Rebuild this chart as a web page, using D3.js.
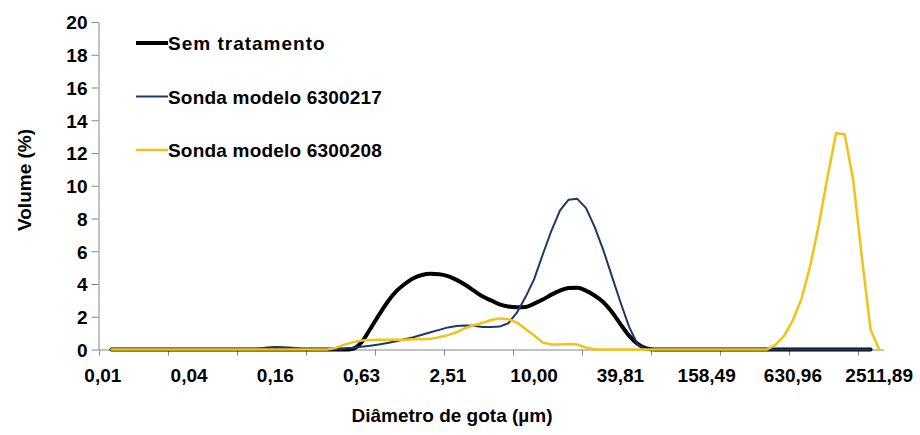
<!DOCTYPE html>
<html>
<head>
<meta charset="utf-8">
<script src="https://cdn.jsdelivr.net/npm/d3@7"></script>
<style>
  body { margin: 0; background: #fff; }
  svg text { font-family: "Liberation Sans", Arial, sans-serif; font-weight: bold; fill: #000; }
</style>
</head>
<body>
<svg id="chart" width="920" height="435"></svg>
<script>
// diameter classes (µm), one per category on the x axis
const diameters = [
  0.01, 0.011482, 0.013183, 0.015136, 0.017378, 0.019953, 0.022909, 0.026303, 0.0302, 0.034674,
  0.039811, 0.045709, 0.052481, 0.060256, 0.069183, 0.079433, 0.091201, 0.10471, 0.12023, 0.13804,
  0.15849, 0.18197, 0.20893, 0.23988, 0.27542, 0.31623, 0.36308, 0.41687, 0.47863, 0.54954,
  0.63096, 0.72444, 0.83176, 0.95499, 1.0965, 1.2589, 1.4454, 1.6596, 1.9055, 2.1878,
  2.5119, 2.884, 3.3113, 3.8019, 4.3652, 5.0119, 5.7544, 6.6069, 7.5858, 8.7096,
  10.0, 11.482, 13.183, 15.136, 17.378, 19.953, 22.909, 26.303, 30.2, 34.674,
  39.811, 45.709, 52.481, 60.256, 69.183, 79.433, 91.201, 104.71, 120.23, 138.04,
  158.49, 181.97, 208.93, 239.88, 275.42, 316.23, 363.08, 416.87, 478.63, 549.54,
  630.96, 724.44, 831.76, 954.99, 1096.5, 1258.9, 1445.4, 1659.6, 1905.5, 2187.8,
  2511.89
];

const xTickLabels = ["0,01", "0,04", "0,16", "0,63", "2,51", "10,00", "39,81", "158,49", "630,96", "2511,89"];
const yTicks = [0, 2, 4, 6, 8, 10, 12, 14, 16, 18, 20];

const seriesNames = ["Sem tratamento", "Sonda modelo 6300217", "Sonda modelo 6300208"];

// volume (%) per diameter class
const semTratamento = [
  null, 0, 0, 0, 0, 0, 0, 0, 0, 0,
  0, 0, 0, 0, 0, 0, 0, 0, 0, 0,
  0, 0, 0, 0, 0, 0, 0, 0, 0, 0.05,
  0.45, 1.25, 2.1, 2.9, 3.55, 4.0, 4.35, 4.55, 4.62, 4.6,
  4.48, 4.25, 3.95, 3.6, 3.25, 3.0, 2.75, 2.62, 2.58, 2.6,
  2.8, 3.05, 3.35, 3.6, 3.75, 3.77, 3.6, 3.3, 2.9, 2.3,
  1.55, 0.85, 0.35, 0.07, 0, 0, 0, 0, 0, 0,
  0, 0, 0, 0, 0, 0, 0, 0, 0, 0,
  0, 0, 0, 0, 0, 0, 0, 0, 0, 0,
  null
];

const sonda6300217 = [
  null, 0, 0, 0, 0, 0, 0, 0, 0, 0,
  0, 0, 0, 0, 0, 0, 0, 0, 0.05, 0.12,
  0.15, 0.14, 0.1, 0.05, 0.02, 0, 0, 0, 0.05, 0.1,
  0.17, 0.23, 0.3, 0.4, 0.5, 0.62, 0.75, 0.9, 1.05, 1.2,
  1.35, 1.43, 1.47, 1.45, 1.38, 1.37, 1.4, 1.6, 2.25, 3.2,
  4.3, 5.8, 7.25, 8.5, 9.15, 9.2, 8.65, 7.5, 6.1, 4.5,
  2.9, 1.4, 0.3, 0, 0, 0, 0, 0, 0, 0,
  0, 0, 0, 0, 0, 0, 0, 0, 0, 0,
  0, 0, 0, 0, 0, 0, 0, 0, 0, 0,
  null
];

const sonda6300208 = [
  null, 0, 0, 0, 0, 0, 0, 0, 0, 0,
  0, 0, 0, 0, 0, 0, 0, 0, 0, 0,
  0, 0, 0, 0, 0, 0, 0, 0.1, 0.3, 0.45,
  0.55, 0.58, 0.6, 0.6, 0.6, 0.6, 0.62, 0.62, 0.65, 0.75,
  0.88, 1.05, 1.3, 1.48, 1.62, 1.8, 1.9, 1.85, 1.65, 1.25,
  0.85, 0.42, 0.3, 0.3, 0.33, 0.3, 0.12, 0.02, 0, 0,
  0, 0, 0, 0, 0, 0, 0, 0, 0, 0,
  0, 0, 0, 0, 0, 0, 0, 0, 0.3, 0.85,
  1.8, 3.1, 5.1, 7.6, 10.5, 13.2, 13.15, 10.3, 5.6, 1.2,
  0
];

const svg = d3.select("#chart");
const plotLeft = 98.5, plotRight = 883.5, plotTop = 22, plotBottom = 349.5;

var x = d3.scaleBand().domain(diameters).range([plotLeft, plotRight]).padding(0);
var y = d3.scaleLinear().domain([0, 20]).range([plotBottom, plotTop]);

// y axis
var yAxis = svg.append("g").attr("transform", "translate(" + plotLeft + ",0)")
  .call(d3.axisLeft(y).tickValues(yTicks).tickSize(7).tickSizeOuter(0).tickPadding(4));
yAxis.select(".domain").attr("stroke", "#868686");
yAxis.selectAll(".tick line").attr("stroke", "#868686");
yAxis.selectAll(".tick text").style("font-size", "19px").attr("dy", "0.36em");

// x axis: labels every 10 classes, tick marks every 8 classes
var labelCats = diameters.filter(function(d, i) { return i % 10 == 0; });
var xAxis = svg.append("g").attr("transform", "translate(0," + plotBottom + ")")
  .call(d3.axisBottom(x).tickValues(labelCats).tickSize(0).tickSizeOuter(0).tickPadding(19)
    .tickFormat(function(d, i) { return xTickLabels[i]; }));
xAxis.select(".domain").attr("stroke", "#868686");
xAxis.selectAll(".tick text").style("font-size", "19px");

var markCats = diameters.filter(function(d, i) { return i % 8 == 0; });
xAxis.selectAll(".mark").data(markCats).enter().append("line")
  .attr("class", "mark")
  .attr("x1", function(d) { return Math.round(x(d)) + 0.5; })
  .attr("x2", function(d) { return Math.round(x(d)) + 0.5; })
  .attr("y1", 0).attr("y2", 6)
  .attr("stroke", "#868686");

// lines
function cx(i) { return x(diameters[i]) + x.bandwidth() / 2; }

var series = [
  { name: seriesNames[0], values: semTratamento, color: "#000000", width: 4, curve: d3.curveMonotoneX },
  { name: seriesNames[1], values: sonda6300217, color: "#1c3868", width: 2, curve: d3.curveLinear },
  { name: seriesNames[2], values: sonda6300208, color: "#f3c218", width: 2.5, curve: d3.curveLinear }
];

series.forEach(function(s) {
  var line = d3.line()
    .defined(function(d) { return d != null; })
    .x(function(d, i) { return cx(i); })
    .y(function(d) { return y(d); })
    .curve(s.curve);
  svg.append("path")
    .attr("d", line(s.values))
    .attr("fill", "none")
    .attr("stroke", s.color)
    .attr("stroke-width", s.width)
    .attr("stroke-linejoin", "round")
    .attr("stroke-linecap", "round");
});

// legend
var legend = svg.append("g");
series.forEach(function(s, i) {
  var ly = 43 + i * 53.5;
  legend.append("line").attr("x1", 136).attr("x2", 168).attr("y1", ly).attr("y2", ly)
    .attr("stroke", s.color).attr("stroke-width", s.width);
  legend.append("text").attr("x", 168).attr("y", ly + 7)
    .style("font-size", "19px")
    .style("letter-spacing", i == 0 ? "1px" : "0.2px")
    .text(s.name);
});

// axis titles
svg.append("text").attr("text-anchor", "middle")
  .attr("transform", "translate(31,180) rotate(-90)")
  .style("font-size", "19px").text("Volume (%)");
svg.append("text").attr("text-anchor", "middle")
  .attr("x", 452).attr("y", 421.5)
  .style("font-size", "19px").text("Diâmetro de gota (µm)");
</script>
</body>
</html>
